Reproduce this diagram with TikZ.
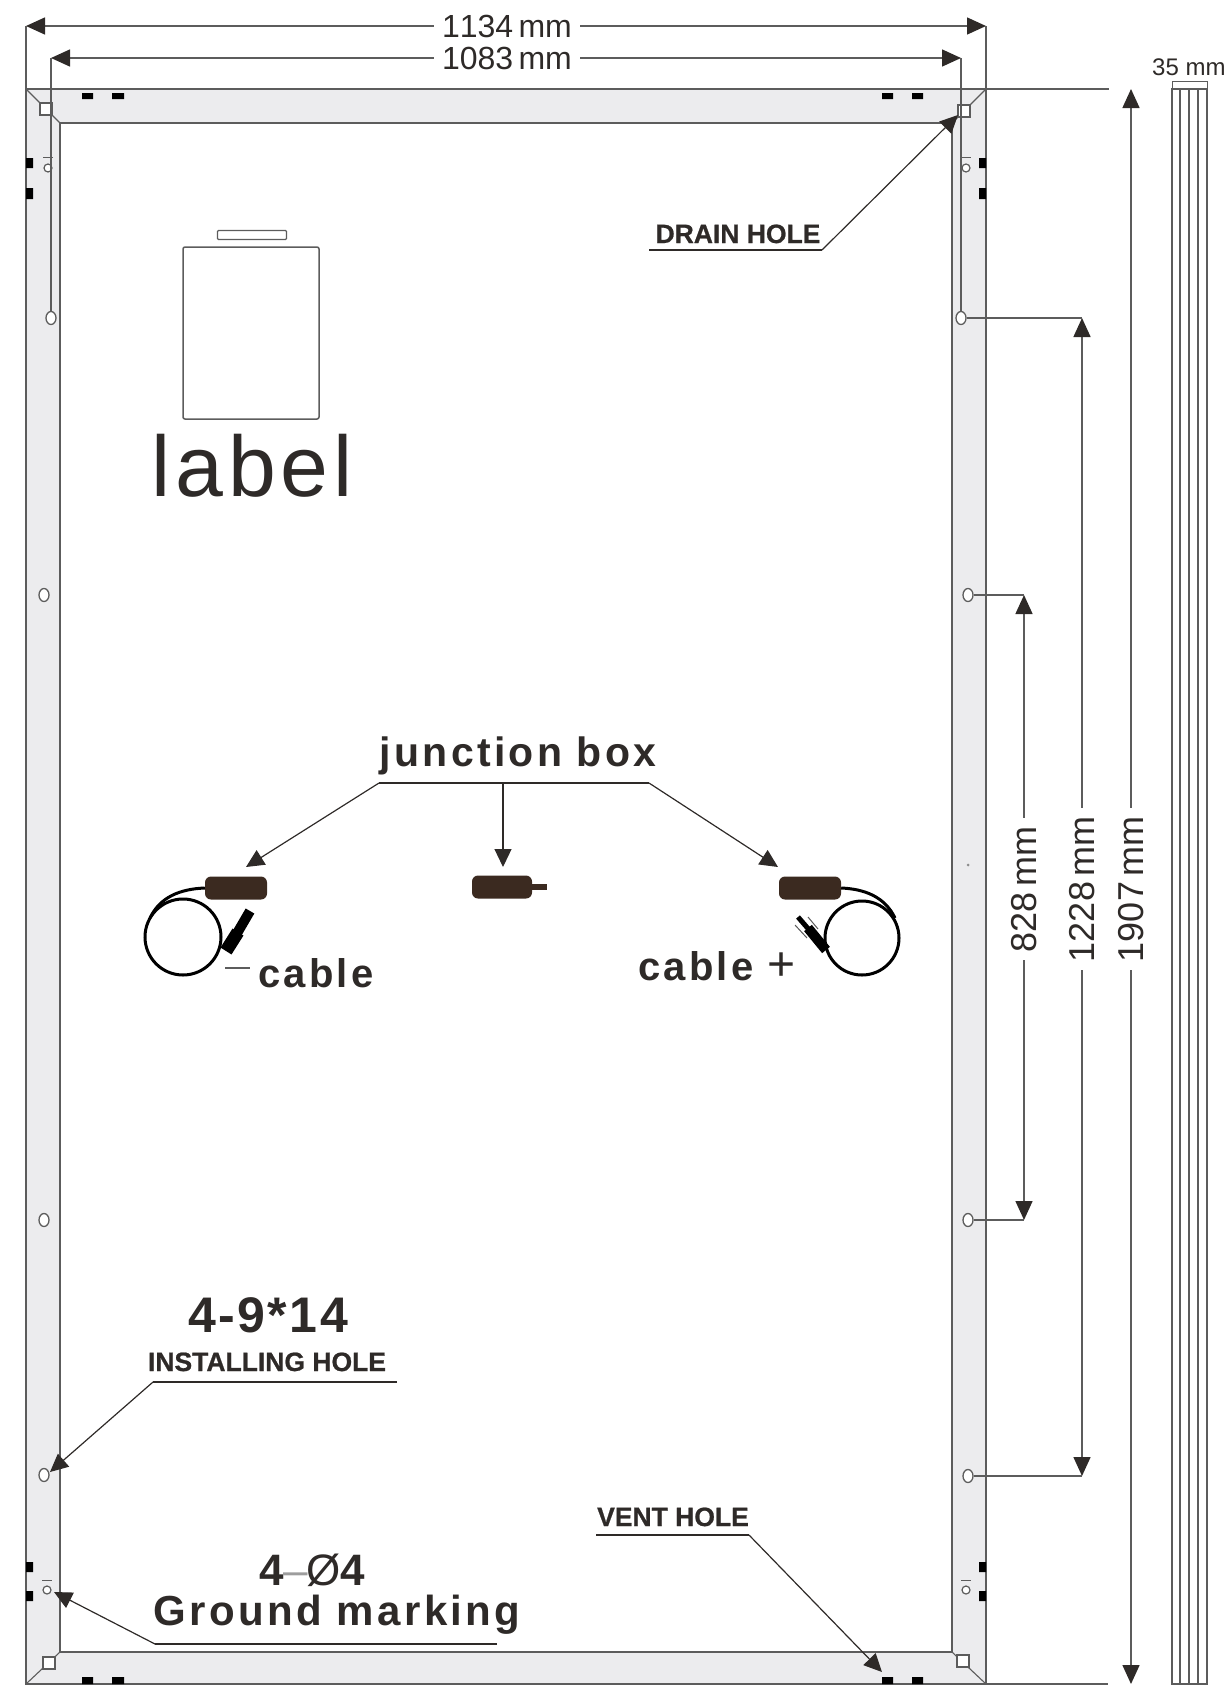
\documentclass[tikz,border=0pt]{standalone}
\usepackage{fontspec}
\setmainfont{Liberation Sans}
\newfontfamily\widefont[LetterSpace=8]{Liberation Sans}
\newfontfamily\numfont[LetterSpace=5]{Liberation Sans}
\newfontfamily\tagfont[BoldFeatures={FakeBold=.8}]{Liberation Sans}
\newfontfamily\dimfont[Kerning=Off]{Liberation Sans}
\usetikzlibrary{arrows.meta, calc, shapes.geometric}
\definecolor{frameline}{HTML}{5C5C5C}
\definecolor{framefill}{HTML}{ECECEE}
\definecolor{inktext}{HTML}{2E2A28}
\definecolor{boxbrown}{HTML}{3B2A20}

\begin{document}
\begin{tikzpicture}[x=1pt,y=-1pt,
  frm/.style={draw=frameline,line width=1.7pt},
  dimline/.style={draw=frameline,line width=1.5pt,-{Triangle[length=19pt,width=17pt,color=inktext]}},
  extline/.style={draw=frameline,line width=1.5pt},
  leader/.style={draw=inktext,line width=1.2pt},
  leaderarrow/.style={leader,-{Triangle[length=18pt,width=17pt,color=inktext]}},
  dimtext/.style={text=inktext,font=\dimfont\fontsize{32}{32}\selectfont,inner xsep=8pt,inner ysep=0pt},
  dimside/.style={text=inktext,font=\dimfont\fontsize{36}{36}\selectfont,rotate=90,inner xsep=8pt,inner ysep=0pt},
  wide/.style={text=inktext,font=\widefont\bfseries\fontsize{#1}{#1}\selectfont,anchor=base,inner sep=0pt},
  tag/.style={text=inktext,font=\tagfont\bfseries\fontsize{26.5}{26.5}\selectfont,anchor=base,inner sep=0pt},
  hole/.style={ellipse,draw=frameline,line width=1.3pt,fill=white,minimum width=10pt,minimum height=13pt,inner sep=0pt},
  gndhole/.style={circle,draw=frameline,line width=1.2pt,fill=white,minimum size=8pt,inner sep=0pt},
  corner/.style={draw=frameline,line width=1.2pt,fill=white,minimum size=12pt,inner sep=0pt},
  boxbody/.style={fill=boxbrown,rounded corners=6pt,minimum width=62pt,minimum height=23pt,inner sep=0pt},
  coil/.style={draw=black,line width=3pt}]
\useasboundingbox (0,0) rectangle (1225,1697);
% Corners of the frame
\coordinate (ol) at (26,89);
\coordinate (or) at (986,89);
\coordinate (ul) at (26,1684);
\coordinate (ur) at (986,1684);
\coordinate (il) at (60,123);
\coordinate (ir) at (952,123);
\coordinate (jl) at (60,1652);
\coordinate (jr) at (952,1652);
% Draw the frame
\fill[framefill,even odd rule] (ol) rectangle (ur) (il) rectangle (jr);
\draw[frm] (ol) rectangle (ur);
\draw[frm] (il) rectangle (jr);
\draw[frameline,line width=1.1pt] (ol) -- (il);
\draw[frameline,line width=1.1pt] (or) -- (ir);
\draw[frameline,line width=1.1pt] (ul) -- (jl);
\draw[frameline,line width=1.1pt] (ur) -- (jr);
% Square holes in the corners
\node[corner] (cnw) at (46,109) {};
\node[corner] (cne) at (964,111) {};
\node[corner] (csw) at (49,1663) {};
\node[corner] (cse) at (963,1661) {};
% Black marks on the frame
\fill[black] (82,93) rectangle (93,99) (112,93) rectangle (124,99) (882,93) rectangle (893,99) (912,93) rectangle (923,99);
\fill[black] (82,1677) rectangle (93,1684) (112,1677) rectangle (124,1684) (882,1677) rectangle (893,1684) (912,1677) rectangle (923,1684);
\fill[black] (26,158) rectangle (33,168) (26,188) rectangle (33,199) (26,1562) rectangle (33,1572) (26,1591) rectangle (33,1601);
\fill[black] (979,158) rectangle (986,168) (979,188) rectangle (986,199) (979,1562) rectangle (986,1572) (979,1591) rectangle (986,1601);
% Ground holes and the little marks over them
\node[gndhole] (gnw) at (48,168) {};
\node[gndhole] (gne) at (966,168) {};
\node[gndhole] (gsw) at (47,1590) {};
\node[gndhole] (gse) at (966,1590) {};
\draw[frameline,line width=.7pt] (43,157) -- (53,157) (961,157) -- (971,157) (42,1580) -- (52,1580) (961,1580) -- (971,1580);
% Mounting holes
\node[hole] (hnw) at (51,318) {};
\node[hole] (hne) at (961,318) {};
\node[hole] (hl1) at (44,595) {};
\node[hole] (hl2) at (44,1220) {};
\node[hole] (hl3) at (44,1475) {};
\node[hole] (hr1) at (968,595) {};
\node[hole] (hr2) at (968,1220) {};
\node[hole] (hr3) at (968,1476) {};
\fill[frameline!70] (968,865) circle (1.5pt);
% Width dimensions
\coordinate (wa) at (26,26);
\coordinate (wb) at (986,26);
\coordinate (va) at (51,58);
\coordinate (vb) at (961,58);
\node[dimtext] (dimw) at (507,26) {1134\,mm};
\node[dimtext] (dimv) at (507,58) {1083\,mm};
\draw[dimline] (dimw.west) -- (wa);
\draw[dimline] (dimw.east) -- (wb);
\draw[dimline] (dimv.west) -- (va);
\draw[dimline] (dimv.east) -- (vb);
\draw[extline] (wa) -- (ol);
\draw[extline] (wb) -- (or);
\draw[extline] (va) -- (hnw);
\draw[extline] (vb) -- (hne);
% Height dimensions
\coordinate (ha) at (1131,89);
\coordinate (hb) at (1131,1684);
\coordinate (ta) at (1109,89);
\coordinate (tb) at (1108,1684);
\coordinate (ka) at (1082,318);
\coordinate (kb) at (1082,1476);
\coordinate (ma) at (1024,595);
\coordinate (mb) at (1024,1220);
\node[dimside] (dimh) at (1131,889) {1907\,mm};
\node[dimside] (dimk) at (1082,889) {1228\,mm};
\node[dimside] (dimm) at (1024,889) {828\,mm};
\draw[dimline] (dimh.east) -- (ha);
\draw[dimline] (dimh.west) -- (hb);
\draw[dimline] (dimk.east) -- (ka);
\draw[dimline] (dimk.west) -- (kb);
\draw[dimline] (dimm.east) -- (ma);
\draw[dimline] (dimm.west) -- (mb);
\draw[extline] (or) -- (ta);
\draw[extline] (ur) -- (tb);
\draw[extline] (hne) -- (ka);
\draw[extline] (hr3) -- (kb);
\draw[extline] (hr1) -- (ma);
\draw[extline] (hr2) -- (mb);
% Side view of the frame
\draw[frm] (1172,89) rectangle (1207,1684);
\draw[frm] (1180,89) -- (1180,1684);
\draw[frm,line width=2.3pt] (1189,89) -- (1189,1684);
\draw[frm] (1198,89) -- (1198,1684);
\draw[frameline,line width=1pt] (1172,89) -- (1172,81) -- (1207,81) -- (1207,89);
\node[text=inktext,font=\fontsize{24}{24}\selectfont,inner sep=0pt,anchor=west] (depth) at (1152,67) {35 mm};
% Label plate
\node[draw=frameline,line width=1.5pt,rounded corners=2pt,minimum width=136pt,minimum height=172pt,inner sep=0pt] (labelbox) at (251,333) {};
\node[draw=frameline,line width=1.3pt,rounded corners=1pt,fill=white,minimum width=69pt,minimum height=9pt,inner sep=0pt] (labelslot) at (252,235) {};
\node[text=inktext,font=\fontsize{86}{86}\selectfont,anchor=base,inner sep=0pt] (labeltext) at (252,496) {l\kern5pt a\kern5pt b\kern5pt e\kern5pt l};
% Junction boxes and the leaders to them
\node[wide=41] (jbox) at (518,766) {junction box};
\coordinate (lja) at (379,783);
\coordinate (ljb) at (649,783);
\coordinate (ljm) at (503,783);
\coordinate (tja) at (246,867);
\coordinate (tjb) at (778,867);
\coordinate (tjm) at (503,867);
\draw[leader] (lja) -- (ljb);
\draw[leaderarrow] (lja) -- (tja);
\draw[leaderarrow] (ljb) -- (tjb);
\draw[leaderarrow] (ljm) -- (tjm);
\node[boxbody] (boxl) at (236,888) {};
\node[boxbody] (boxr) at (810,888) {};
\node[boxbody,minimum width=60pt] (boxm) at (502,887) {};
\fill[boxbrown] (530,884) rectangle (547,890);
% Left cable
\draw[coil] (183,937) circle (38pt);
\draw[coil] (boxl.west) .. controls (180,889) and (160,897) .. (150,918);
\draw[black,line width=10pt] (250,911) -- (236,935);
\draw[black,line width=13pt] (238,932) -- (226,951);
% Right cable
\draw[coil] (862,938) circle (37pt);
\draw[coil] (boxr.east) .. controls (865,889) and (885,897) .. (895,918);
\draw[black,line width=5pt] (798,917) -- (811,932);
\draw[black,line width=10pt] (808,928) -- (826,950);
\draw[frameline,line width=1pt] (795,925) -- (807,938) (808,917) -- (818,929);
% Cable labels
\draw[frameline,line width=1.2pt] (225,968) -- (250,968);
\node[wide=40] (cableneg) at (316,987) {cable};
\node[wide=40,anchor=base west] (cablepos) at (638,980) {cable\kern14pt{\normalfont\fontsize{48}{48}\selectfont +}};
% Drain hole
\node[tag] (drain) at (738,243) {DRAIN HOLE};
\coordinate (da) at (649,250);
\coordinate (db) at (822,250);
\coordinate (dt) at (958,115);
\draw[leader] (da) -- (db);
\draw[leaderarrow] (db) -- (dt);
% Installing hole
\node[text=inktext,font=\numfont\bfseries\fontsize{50}{50}\selectfont,anchor=base,inner sep=0pt] (instnum) at (268,1332) {4-9*14};
\node[tag] (instname) at (267,1371) {INSTALLING HOLE};
\coordinate (ia) at (397,1382);
\coordinate (ib) at (153,1382);
\coordinate (it) at (50,1472);
\draw[leader] (ia) -- (ib);
\draw[leaderarrow] (ib) -- (it);
% Vent hole
\node[tag] (vent) at (673,1526) {VENT HOLE};
\coordinate (ea) at (596,1535);
\coordinate (eb) at (749,1535);
\coordinate (et) at (882,1672);
\draw[leader] (ea) -- (eb);
\draw[leaderarrow] (eb) -- (et);
% Ground marking
\node[wide=44] (gndnum) at (312,1585) {4\textcolor{frameline!60}{\normalfont–}\kern-2pt\normalfont Ø\bfseries 4};
\node[wide=42] (gndname) at (337,1625) {Ground marking};
\coordinate (ga) at (497,1644);
\coordinate (gb) at (155,1644);
\coordinate (gt) at (54,1592);
\draw[leader] (ga) -- (gb);
\draw[leaderarrow] (gb) -- (gt);
\end{tikzpicture}
\end{document}
